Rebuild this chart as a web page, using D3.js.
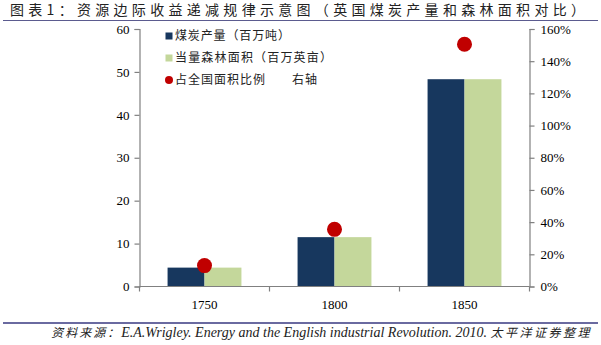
<!DOCTYPE html>
<html>
<head>
<meta charset="utf-8">
<script src="https://cdn.jsdelivr.net/npm/d3@7"></script>
<style>
  body { margin: 0; background: #fff; }
  svg { display: block; }
</style>
</head>
<body>
<svg id="chart" width="601" height="345"></svg>
<script>
// Years compared
const years = ["1750", "1800", "1850"];
// Coal output, million tons
const coalOutput = [4.4, 11.5, 48.3];
// Equivalent forest area, million acres
const forestArea = [4.4, 11.5, 48.3];
// Share of national land area (right axis)
const landShare = [0.13, 0.355, 1.505];

const leftTicks = [0, 10, 20, 30, 40, 50, 60];
const rightTicks = [0, 0.2, 0.4, 0.6, 0.8, 1.0, 1.2, 1.4, 1.6];

const seriesNames = ["煤炭产量（百万吨）", "当量森林面积（百万英亩）", "占全国面积比例　　右轴"];
const colors = { coal: "#17375E", forest: "#C4D79B", dot: "#C00000" };

const svg = d3.select("#chart");
const cjk = "'Noto Sans CJK SC', 'Noto Sans', sans-serif";
const serif = "'Liberation Serif', 'DejaVu Serif', serif";

// Title and rules
svg.append("text").attr("x", 10).attr("y", 15)
  .attr("font-family", cjk).attr("font-size", 14).attr("fill", "#222")
  .attr("textLength", 575).attr("lengthAdjust", "spacing")
  .text("图表1：资源边际收益递减规律示意图（英国煤炭产量和森林面积对比）");
svg.append("line").attr("x1", 3).attr("x2", 598).attr("y1", 20.5).attr("y2", 20.5)
  .attr("stroke", "#5b5b8f").attr("stroke-width", 1.2);
svg.append("line").attr("x1", 3).attr("x2", 598).attr("y1", 323).attr("y2", 323)
  .attr("stroke", "#6a6aa0").attr("stroke-width", 2);

// Source note: CJK parts spaced, Latin part in italic serif
const src = svg.append("text").attr("x", 592).attr("y", 337).attr("text-anchor", "end")
  .attr("font-style", "italic").attr("fill", "#222");
src.append("tspan").attr("font-family", cjk).attr("font-size", 12).attr("letter-spacing", 2)
  .text("资料来源：");
src.append("tspan").attr("font-family", serif).attr("font-size", 14)
  .text("E.A.Wrigley. Energy and the English industrial Revolution. 2010.  ");
src.append("tspan").attr("font-family", cjk).attr("font-size", 12).attr("letter-spacing", 2.5)
  .text("太平洋证券整理");

// Plot area
const x0 = 139.5, x1 = 529.5, yTop = 29, yBot = 286.5;

const x = d3.scaleBand().domain(years).range([x0, x1]).paddingInner(0).paddingOuter(0);
const inner = d3.scaleBand().domain(["coal", "forest"]).range([0, x.bandwidth()]).paddingInner(0).paddingOuter(0.76);
const yL = d3.scaleLinear().domain([0, 60]).range([yBot, yTop]);
const yR = d3.scaleLinear().domain([0, 1.6]).range([yBot, yTop]);

// Bars
const g = svg.append("g");
years.forEach((yr, i) => {
  g.append("rect").attr("x", x(yr) + inner("coal")).attr("width", inner.bandwidth())
    .attr("y", yL(coalOutput[i])).attr("height", yBot - yL(coalOutput[i])).attr("fill", colors.coal);
  g.append("rect").attr("x", x(yr) + inner("forest")).attr("width", inner.bandwidth())
    .attr("y", yL(forestArea[i])).attr("height", yBot - yL(forestArea[i])).attr("fill", colors.forest);
});

// Land-share dots
g.selectAll("circle.share").data(landShare).join("circle")
  .attr("class", "share")
  .attr("cx", (d, i) => x(years[i]) + x.bandwidth() / 2)
  .attr("cy", d => yR(d)).attr("r", 7.5).attr("fill", colors.dot);

// Axes
function styleAxis(sel) {
  sel.selectAll("path, line").attr("stroke", "#808080").attr("stroke-width", 1.2);
  sel.selectAll("text").attr("font-family", serif).attr("font-size", 13).attr("fill", "#000");
}
const axL = svg.append("g").attr("transform", `translate(${x0},0)`)
  .call(d3.axisLeft(yL).tickValues(leftTicks).tickSize(5).tickSizeOuter(5).tickPadding(5));
styleAxis(axL);
const axR = svg.append("g").attr("transform", `translate(${x1},0)`)
  .call(d3.axisRight(yR).tickValues(rightTicks).tickSize(5).tickSizeOuter(5).tickPadding(6)
    .tickFormat(d3.format(".0%")));
styleAxis(axR);
const axB = svg.append("g").attr("transform", `translate(0,${yBot})`)
  .call(d3.axisBottom(x).tickSize(0).tickSizeOuter(0).tickPadding(13));
styleAxis(axB);
axB.select("path").attr("d", `M${x0},0H${x1}`);
// Category separators
[x0, x0 + x.bandwidth(), x0 + 2 * x.bandwidth(), x1].forEach(px => {
  axB.append("line").attr("x1", px).attr("x2", px).attr("y1", 0).attr("y2", 5)
    .attr("stroke", "#808080").attr("stroke-width", 1.2);
});

// Legend
const legend = svg.append("g").attr("font-family", cjk).attr("font-size", 12).attr("fill", "#222");
const rowsY = [36, 58, 80];
legend.append("rect").attr("x", 165.5).attr("y", rowsY[0] - 3.5).attr("width", 7).attr("height", 7).attr("fill", colors.coal);
legend.append("rect").attr("x", 165.5).attr("y", rowsY[1] - 3.5).attr("width", 7).attr("height", 7).attr("fill", colors.forest);
legend.append("circle").attr("cx", 169).attr("cy", rowsY[2]).attr("r", 4).attr("fill", colors.dot);
const legendWidths = [115, 157, 142];
seriesNames.forEach((name, i) => {
  legend.append("text").attr("x", 175).attr("y", rowsY[i]).attr("dy", "0.36em")
    .attr("textLength", legendWidths[i]).attr("lengthAdjust", "spacing").text(name);
});
</script>
</body>
</html>
